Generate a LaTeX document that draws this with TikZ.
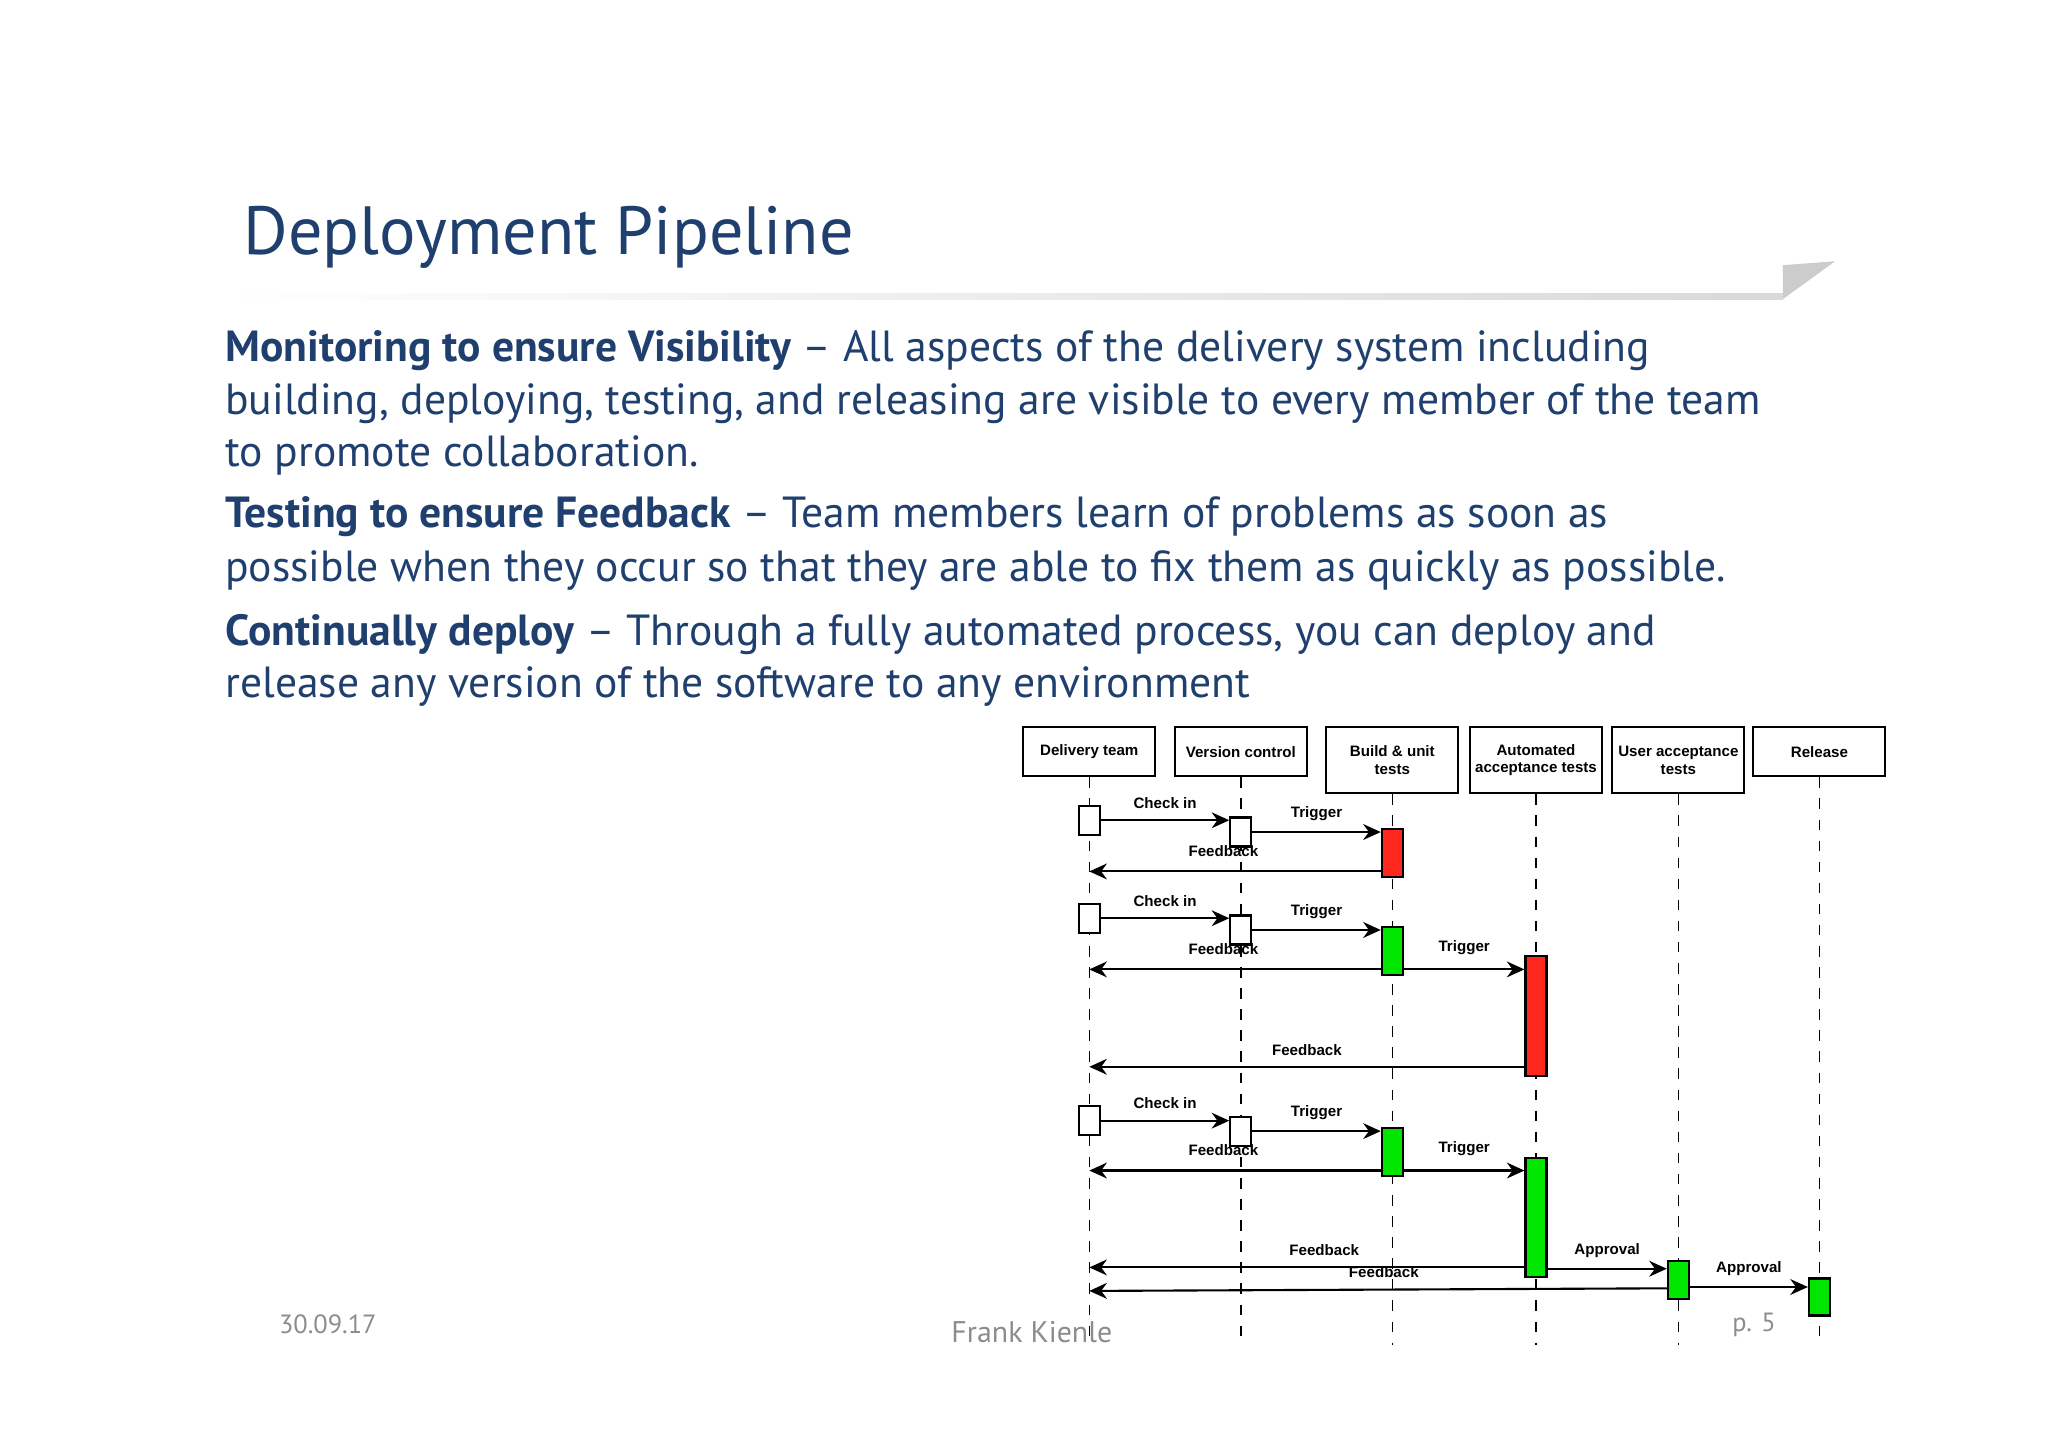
\documentclass[tikz,border=0pt]{standalone}
\usepackage{fontspec}
\setmainfont{PT Sans}
\newfontfamily\diagfont{Liberation Sans}
\usetikzlibrary{arrows.meta,calc}
\definecolor{slideblue}{RGB}{31,63,110}
\definecolor{footgray}{RGB}{140,140,140}
\definecolor{failred}{RGB}{255,40,30}
\definecolor{passgreen}{RGB}{0,230,0}
\tikzset{
  head/.style={draw,semithick,align=center,minimum width=1.32cm,inner sep=0pt,
    font=\diagfont\fontsize{4.3}{5}\selectfont\bfseries},
  act/.style={draw,semithick,minimum width=0.21cm,inner sep=0pt},
  lane/.style={dashed,thin},
  msg/.style={-{Stealth[length=5pt,width=4.5pt]},semithick},
  lbl/.style={font=\diagfont\fontsize{4.3}{5}\selectfont\bfseries,inner sep=0pt},
  body/.style={anchor=base west,inner sep=0pt,text=slideblue,font=\fontsize{12.4}{14}\selectfont},
  foot/.style={inner sep=0pt,text=footgray}
}
\begin{document}
\begin{tikzpicture}[x=0.013061cm,y=-0.013061cm]
\useasboundingbox (0,0) rectangle (1568,1108);
% title
\node[anchor=base west,inner sep=0pt,text=slideblue,font=\fontsize{19.4}{22}\selectfont] (title) at (186,195) {Deployment Pipeline};
\shade[left color=white,right color=black!15] (170,225) rectangle (1365,229);
\fill[black!20] (1365,229) -- (1365,203) -- (1405,200) -- cycle;
% text
\node[body] (l1) at (172,277) {\textbf{Monitoring to ensure Visibility} -- All aspects of the delivery system including};
\node[body] (l2) at (172,317) {building, deploying, testing, and releasing are visible to every member of the team};
\node[body] (l3) at (172,357) {to promote collaboration.};
\node[body] (l4) at (172,404) {\textbf{Testing to ensure Feedback} -- Team members learn of problems as soon as};
\node[body] (l5) at (172,445) {possible when they occur so that they are able to fix them as quickly as possible.};
\node[body] (l6) at (172,494) {\textbf{Continually deploy} -- Through a fully automated process, you can deploy and};
\node[body] (l7) at (172,534) {release any version of the software to any environment};
% footer
\node[foot,font=\fontsize{7.5}{9}\selectfont] (date) at (251,1014) {30.09.17};
\node[foot,font=\fontsize{8.5}{10}\selectfont] (author) at (790,1020) {Frank Kienle};
\node[foot,font=\fontsize{7.5}{9}\selectfont] (page) at (1343,1014) {p. 5};
% headers
\node[head,anchor=north,minimum height=0.49cm] (dt) at (834,556) {Delivery team};
\node[head,anchor=north,minimum height=0.49cm] (vc) at (950,556) {Version control};
\node[head,anchor=north,minimum height=0.66cm] (bu) at (1066,556) {Build \& unit\\tests};
\node[head,anchor=north,minimum height=0.66cm] (aa) at (1176,556) {Automated\\acceptance tests};
\node[head,anchor=north,minimum height=0.66cm] (ua) at (1285,556) {User acceptance\\tests};
\node[head,anchor=north,minimum height=0.49cm] (re) at (1393,556) {Release};
% lifelines
\foreach \h in {dt,vc,bu,aa,ua,re}
  \draw[lane] (\h.south) -- (\h.south |- 0,1030);
% first run
\node[act,fill=white,minimum height=0.29cm] (d1) at (834,628) {};
\node[act,fill=white,minimum height=0.29cm] (v1) at (950,637) {};
\node[act,fill=failred,minimum height=0.48cm] (b1) at (1066,653) {};
\coordinate (fb1) at ($(b1.south west)+(0,-5)$);
\draw[msg] (d1.east) -- node[lbl,above=3pt] {Check in} (d1.east -| v1.west);
\draw[msg] (v1.east) -- node[lbl,above=3pt] {Trigger} (v1.east -| b1.west);
\draw[msg] (fb1) -- node[lbl,above=4pt,pos=0.54] {Feedback} (fb1 -| d1.center);
% second run
\node[act,fill=white,minimum height=0.29cm] (d2) at (834,703) {};
\node[act,fill=white,minimum height=0.29cm] (v2) at (950,712) {};
\node[act,fill=passgreen,minimum height=0.48cm] (b2) at (1066,728) {};
\node[act,fill=failred,minimum height=1.2cm] (a2) at (1176,778) {};
\coordinate (fb2) at ($(b2.south west)+(0,-5)$);
\coordinate (tr2) at ($(b2.south east)+(0,-5)$);
\coordinate (fa2) at ($(a2.south west)+(0,-8)$);
\draw[msg] (d2.east) -- node[lbl,above=3pt] {Check in} (d2.east -| v2.west);
\draw[msg] (v2.east) -- node[lbl,above=3pt] {Trigger} (v2.east -| b2.west);
\draw[msg] (fb2) -- node[lbl,above=4pt,pos=0.54] {Feedback} (fb2 -| d2.center);
\draw[msg] (tr2) -- node[lbl,above=4pt] {Trigger} (tr2 -| a2.west);
\draw[msg] (fa2) -- node[lbl,above=3pt] {Feedback} (fa2 -| d2.center);
% third run
\node[act,fill=white,minimum height=0.29cm] (d3) at (834,858) {};
\node[act,fill=white,minimum height=0.29cm] (v3) at (950,866) {};
\node[act,fill=passgreen,minimum height=0.48cm] (b3) at (1066,882) {};
\node[act,fill=passgreen,minimum height=1.19cm] (a3) at (1176,932) {};
\node[act,fill=passgreen,minimum height=0.38cm] (u3) at (1285,980) {};
\node[act,fill=passgreen,minimum height=0.37cm] (r3) at (1393,993) {};
\coordinate (fb3) at ($(b3.south west)+(0,-5)$);
\coordinate (tr3) at ($(b3.south east)+(0,-5)$);
\coordinate (fa3) at ($(a3.south west)+(0,-8)$);
\coordinate (ap3) at ($(a3.south east)+(0,-7)$);
\coordinate (fu3) at ($(u3.south west)+(0,-9)$);
\coordinate (fe3) at ($(u3.south west)+(0,-7)$);
\coordinate (ar3) at ($(u3.south east)+(0,-10)$);
\draw[msg] (d3.east) -- node[lbl,above=3pt] {Check in} (d3.east -| v3.west);
\draw[msg] (v3.east) -- node[lbl,above=3pt] {Trigger} (v3.east -| b3.west);
\draw[msg] (fb3) -- node[lbl,above=4pt,pos=0.54] {Feedback} (fb3 -| d3.center);
\draw[msg] (tr3) -- node[lbl,above=4pt] {Trigger} (tr3 -| a3.west);
\draw[msg] (fa3) -- node[lbl,above=3pt,pos=0.46] {Feedback} (fa3 -| d3.center);
\draw[msg] (ap3) -- node[lbl,above=3pt] {Approval} (ap3 -| u3.west);
\draw[msg] (fu3) -- node[lbl,above=3pt,pos=0.49] {Feedback} (fe3 -| d3.center);
\draw[msg] (ar3) -- node[lbl,above=3pt] {Approval} (ar3 -| r3.west);
\end{tikzpicture}
\end{document}
